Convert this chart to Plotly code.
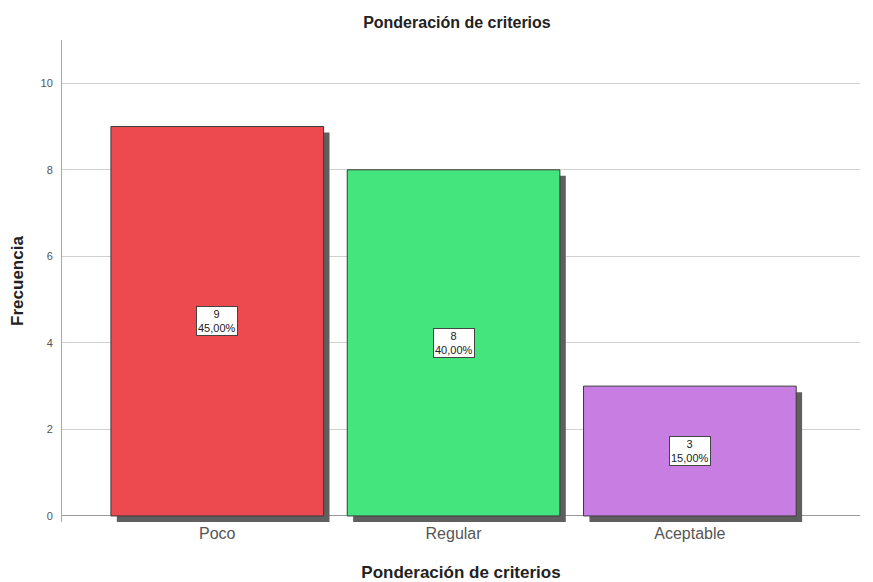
import plotly.graph_objects as go

categories = ["Poco", "Regular", "Aceptable"]
counts = [9, 8, 3]
percents = ["45,00%", "40,00%", "15,00%"]
colors = ["#EC4A4F", "#43E57C", "#C77DE2"]
y_ticks = [0, 2, 4, 6, 8, 10]

FONT = "Liberation Sans, Arial, sans-serif"
x_idx = list(range(len(categories)))

fig = go.Figure()
# drop shadow
fig.add_trace(go.Bar(
    x=x_idx, y=counts, base=-0.14, width=0.9, offset=-0.425,
    marker=dict(color="#5f5f5f", line=dict(width=0)),
    hoverinfo="skip", showlegend=False,
))
fig.add_trace(go.Bar(
    x=x_idx, y=counts, width=0.9,
    marker=dict(color=colors, line=dict(color="#3a3a3a", width=1)),
    showlegend=False,
))

for i, (c, p) in enumerate(zip(counts, percents)):
    fig.add_annotation(
        x=i, y=c / 2, text=f"{c}<br>{p}", showarrow=False,
        font=dict(family=FONT, size=11, color="#222"),
        bgcolor="white", bordercolor="#444", borderwidth=1, borderpad=1,
    )

fig.update_layout(
    width=865, height=574,
    margin=dict(l=54, r=13, t=32, b=60),
    paper_bgcolor="white", plot_bgcolor="white",
    barmode="overlay",
    title=dict(text="<b>Ponderación de criterios</b>", x=0.519, xanchor="center",
               y=0.975, yanchor="middle",
               font=dict(family=FONT, size=16, color="#222")),
    font=dict(family=FONT),
)
fig.update_xaxes(
    range=[-0.657, 2.72], tickvals=x_idx, ticktext=categories,
    tickfont=dict(family=FONT, size=16, color="#555"),
    showgrid=False, showline=False, zeroline=False, ticks="",
    automargin=False,
    title=dict(text="<b>Ponderación de criterios</b>", standoff=27,
               font=dict(family=FONT, size=17, color="#222")),
)
fig.update_yaxes(
    range=[-0.14, 11], tickvals=y_ticks,
    tickfont=dict(family=FONT, size=11, color="#555"),
    showgrid=True, gridcolor="#d0d0d0", gridwidth=1,
    zeroline=True, zerolinecolor="#999", zerolinewidth=1,
    showline=True, linecolor="#aaa", linewidth=1, ticks="",
    ticklabelstandoff=6,
    automargin=False,
    title=dict(text="<b>Frecuencia</b>", standoff=22,
               font=dict(family=FONT, size=17, color="#222")),
)

fig.write_html("out.html")
